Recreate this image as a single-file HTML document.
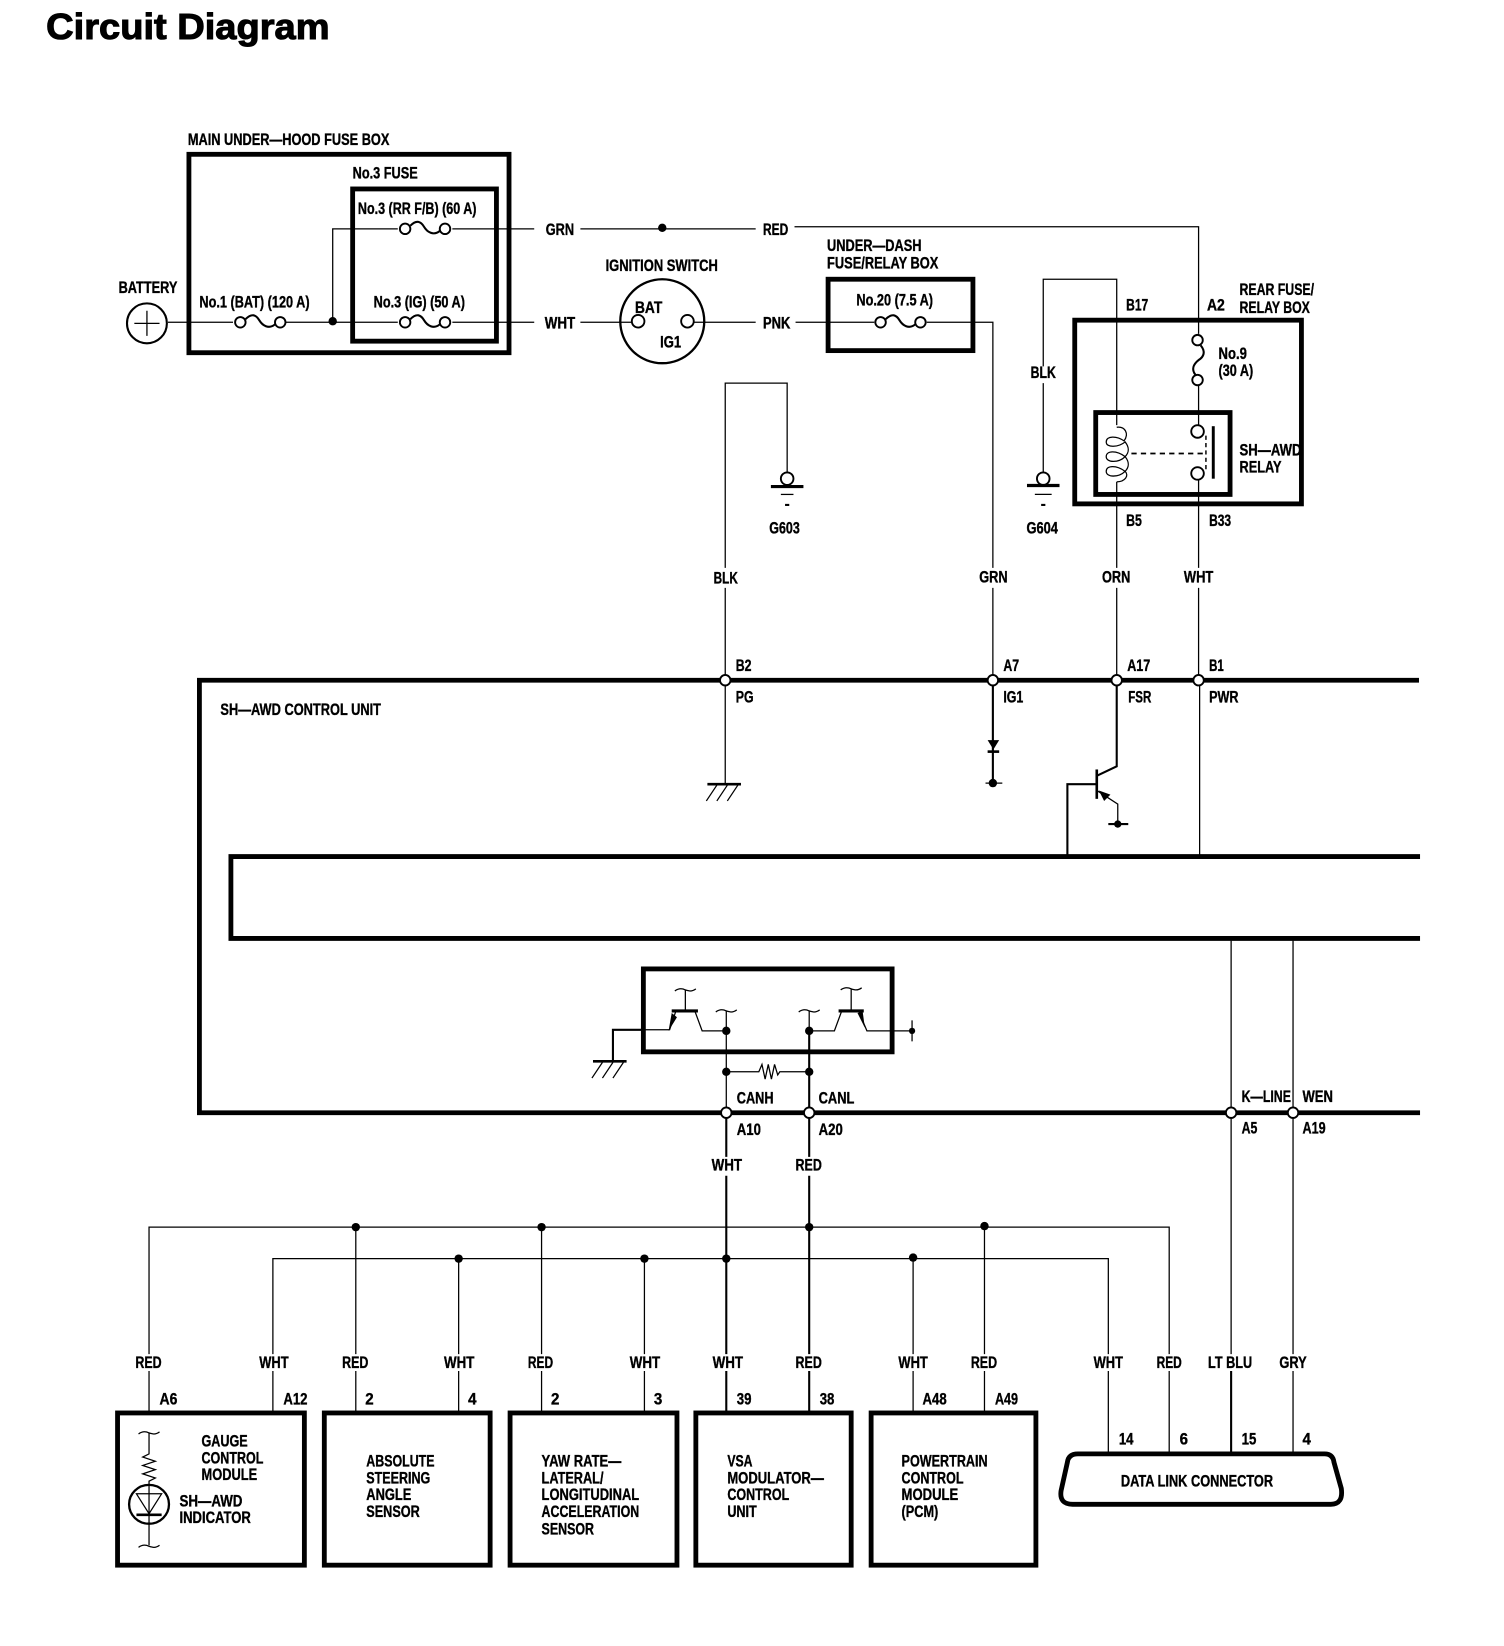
<!DOCTYPE html>
<html><head><meta charset="utf-8"><style>
html,body{margin:0;padding:0;background:#fff;width:1504px;height:1646px;overflow:hidden}
svg{display:block}
text{font-family:"Liberation Sans",sans-serif;font-weight:700;font-size:15.5px;fill:#000;stroke:#000;stroke-width:.35px}
.w{fill:none;stroke:#000;stroke-width:1.2}
.m{fill:none;stroke:#000;stroke-width:2}
.b{fill:none;stroke:#000;stroke-width:4.6}
.o{fill:#fff;stroke:#000;stroke-width:1.8}
.k{fill:#000}
</style></head><body>
<svg width="1504" height="1646" viewBox="0 0 1433 1568" preserveAspectRatio="none" xmlns="http://www.w3.org/2000/svg">
<defs>
<g id="f"><circle class="o" cx="-19" cy="0" r="5"/><circle class="o" cx="19" cy="0" r="5"/><path class="m" d="M-14,-3 C-8,-9 -4,-7 -1,-2 C2,3 8,7 14,2"/></g>
<g id="gnd"><path class="k" d="M-15.500,0h31v3h-31z"/></g>
<g id="hatch"><path d="M-16,0H16" stroke="#000" stroke-width="2.500" fill="none"/><path class="w" d="M-7,1 L-17,16 M3,1 L-7,16 M13,1 L3,16"/></g>
<path id="sq" class="w" d="M-10,1 C-6,-2 -2,-1 0,0 C3,1 6,2 10,-1"/>
</defs>

<text x="44" y="37" style="font-size:34.500px;stroke-width:1px" textLength="270" lengthAdjust="spacingAndGlyphs">Circuit Diagram</text>

<!-- top boxes -->
<rect class="b" x="180" y="147" width="305" height="189"/>
<rect class="b" x="336" y="180" width="137" height="145"/>
<rect class="b" x="789" y="266" width="138" height="68"/>
<rect class="b" x="1024" y="305" width="216" height="175"/>
<rect class="b" x="1044" y="393" width="128" height="78"/>

<!-- top wires -->
<path class="w" d="M160,307H222 M268,307H379 M317,307V218H379 M431,218H509 M431,307H509 M553,218H720 M757,216H1142V318 M553,307H592 M670,307H720 M758,307H833 M883,307H946V541 M946,560V648"/>
<circle class="k" cx="317" cy="306" r="4"/><circle class="k" cx="631" cy="217" r="4"/>
<circle cx="140" cy="308" r="19" fill="#fff" stroke="#000" stroke-width="2"/>
<path class="w" d="M128,308H152 M140,296V320"/>
<use href="#f" x="248" y="307"/><use href="#f" x="405" y="218"/><use href="#f" x="405" y="307"/><use href="#f" x="858" y="307"/>
<circle cx="631" cy="306" r="40" fill="#fff" stroke="#000" stroke-width="2.200"/>
<path class="w" d="M590,307H602 M661,307H672"/>
<circle class="o" cx="608" cy="306" r="6"/><circle class="o" cx="655" cy="306" r="6"/>

<text x="179" y="138" textLength="192" lengthAdjust="spacingAndGlyphs">MAIN UNDER—HOOD FUSE BOX</text>
<text x="336" y="170" textLength="62" lengthAdjust="spacingAndGlyphs">No.3 FUSE</text>
<text x="341" y="204" textLength="113" lengthAdjust="spacingAndGlyphs">No.3 (RR F/B) (60 A)</text>
<text x="190" y="293" textLength="105" lengthAdjust="spacingAndGlyphs">No.1 (BAT) (120 A)</text>
<text x="356" y="293" textLength="87" lengthAdjust="spacingAndGlyphs">No.3 (IG) (50 A)</text>
<text x="113" y="279" textLength="56" lengthAdjust="spacingAndGlyphs">BATTERY</text>
<text x="520" y="224" textLength="27" lengthAdjust="spacingAndGlyphs">GRN</text>
<text x="727" y="224" textLength="24" lengthAdjust="spacingAndGlyphs">RED</text>
<text x="519" y="313" textLength="29" lengthAdjust="spacingAndGlyphs">WHT</text>
<text x="727" y="313" textLength="26" lengthAdjust="spacingAndGlyphs">PNK</text>
<text x="577" y="258" textLength="107" lengthAdjust="spacingAndGlyphs">IGNITION SWITCH</text>
<text x="605" y="298" textLength="26" lengthAdjust="spacingAndGlyphs">BAT</text>
<text x="629" y="331" textLength="20" lengthAdjust="spacingAndGlyphs">IG1</text>
<text x="788" y="239" textLength="90" lengthAdjust="spacingAndGlyphs">UNDER—DASH</text>
<text x="788" y="256" textLength="106" lengthAdjust="spacingAndGlyphs">FUSE/RELAY BOX</text>
<text x="816" y="291" textLength="73" lengthAdjust="spacingAndGlyphs">No.20 (7.5 A)</text>

<!-- G603 / G604 -->
<path class="w" d="M691,541V365H750V450 M691,560V645 M691,653V746"/>
<circle class="o" cx="750" cy="456" r="6"/><use href="#gnd" x="750" y="462"/>
<path class="w" d="M744,471H756"/><path class="m" d="M748,481H752"/>
<text x="733" y="508" textLength="29" lengthAdjust="spacingAndGlyphs">G603</text>
<text x="680" y="556" textLength="23" lengthAdjust="spacingAndGlyphs">BLK</text>
<path class="w" d="M994,349V266H1064V405 M994,365V450"/>
<circle class="o" cx="994" cy="456" r="6"/><use href="#gnd" x="994" y="461"/>
<path class="w" d="M986,471H1002"/><path class="m" d="M992,481H996"/>
<text x="978" y="508" textLength="30" lengthAdjust="spacingAndGlyphs">G604</text>
<text x="982" y="360" textLength="24" lengthAdjust="spacingAndGlyphs">BLK</text>

<text x="1073" y="296" textLength="21" lengthAdjust="spacingAndGlyphs">B17</text>
<text x="1150" y="296" textLength="17" lengthAdjust="spacingAndGlyphs">A2</text>
<text x="1181" y="281" textLength="71" lengthAdjust="spacingAndGlyphs">REAR FUSE/</text>
<text x="1181" y="298" textLength="67" lengthAdjust="spacingAndGlyphs">RELAY BOX</text>
<text x="1161" y="342" textLength="27" lengthAdjust="spacingAndGlyphs">No.9</text>
<text x="1161" y="358" textLength="33" lengthAdjust="spacingAndGlyphs">(30 A)</text>
<text x="1181" y="434" textLength="59" lengthAdjust="spacingAndGlyphs">SH—AWD</text>
<text x="1181" y="450" textLength="40" lengthAdjust="spacingAndGlyphs">RELAY</text>
<text x="1073" y="501" textLength="15" lengthAdjust="spacingAndGlyphs">B5</text>
<text x="1152" y="501" textLength="21" lengthAdjust="spacingAndGlyphs">B33</text>

<!-- relay -->
<circle class="o" cx="1141" cy="324" r="5"/><circle class="o" cx="1141" cy="362" r="5"/>
<path class="m" d="M1144,329 C1149,335 1147,340 1142,343 C1137,347 1135,352 1139,357"/>
<path class="w" d="M1142,367V405 M1142,457V541 M1142,560V645"/>
<circle class="o" cx="1141" cy="411" r="6"/><circle class="o" cx="1141" cy="451" r="6"/>
<path d="M1156,406V456" stroke="#000" stroke-width="2.800"/>
<path class="w" d="M1064,407 C1072,406 1076,413 1071,420 C1064,415 1054,415 1054,421 C1054,427 1066,426 1072,421 C1076,426 1076,431 1072,435 C1064,429 1054,429 1054,435 C1054,441 1066,441 1072,435 C1076,440 1076,445 1072,449 C1064,443 1054,443 1054,449 C1054,455 1066,455 1072,449 C1076,453 1072,459 1064,459"/>
<path d="M1078,432H1150" stroke="#000" stroke-width="1.600" stroke-dasharray="5 4"/>
<path d="M1149,415V450" stroke="#000" stroke-width="1.400" stroke-dasharray="4 3"/>
<path class="w" d="M1064,459V541 M1064,560V645"/>

<text x="933" y="555" textLength="27" lengthAdjust="spacingAndGlyphs">GRN</text>
<text x="1050" y="555" textLength="27" lengthAdjust="spacingAndGlyphs">ORN</text>
<text x="1128" y="555" textLength="28" lengthAdjust="spacingAndGlyphs">WHT</text>

<!-- control unit -->
<path class="b" d="M1352,648H190V1060H1353"/>
<path class="b" d="M1353,816H220V894H1353"/>
<circle class="o" cx="691" cy="648" r="5"/><circle class="o" cx="946" cy="648" r="5"/><circle class="o" cx="1064" cy="648" r="5"/><circle class="o" cx="1142" cy="648" r="5"/>
<text x="701" y="639" textLength="15" lengthAdjust="spacingAndGlyphs">B2</text>
<text x="956" y="639" textLength="15" lengthAdjust="spacingAndGlyphs">A7</text>
<text x="1074" y="639" textLength="22" lengthAdjust="spacingAndGlyphs">A17</text>
<text x="1152" y="639" textLength="14" lengthAdjust="spacingAndGlyphs">B1</text>
<text x="701" y="669" textLength="17" lengthAdjust="spacingAndGlyphs">PG</text>
<text x="956" y="669" textLength="19" lengthAdjust="spacingAndGlyphs">IG1</text>
<text x="1075" y="669" textLength="22" lengthAdjust="spacingAndGlyphs">FSR</text>
<text x="1152" y="669" textLength="28" lengthAdjust="spacingAndGlyphs">PWR</text>
<text x="210" y="681" textLength="153" lengthAdjust="spacingAndGlyphs">SH—AWD CONTROL UNIT</text>
<use href="#hatch" x="690" y="747"/>

<path class="m" d="M946,653V746 M1064,653V730L1045,739"/>
<path class="k" d="M941,705H952L946.500,714Z"/><path d="M941,716H952" stroke="#000" stroke-width="2.500"/>
<circle class="k" cx="946" cy="746" r="4"/><path class="w" d="M939,746H955"/>
<path d="M1045,733V761" stroke="#000" stroke-width="2.500"/>
<path class="m" d="M1017,815V747H1045"/>
<path class="w" d="M1045,753L1065,766V785"/>
<path class="k" d="M1047,753L1058,757L1052,763Z"/>
<circle class="k" cx="1065" cy="785" r="3.500"/><path class="m" d="M1056,785H1075"/>
<path class="w" d="M1143,653V815"/>

<!-- CAN box -->
<rect class="b" x="613" y="923" width="237" height="79"/>
<path class="w" d="M613,981H638L644,963 M662,963L669,982H692 M692,963V1055 M771,963V1055 M771,982H795L802,963 M818,963L826,982H869 M653,963V943 M811,963V942"/>
<path class="m" d="M584,1010V981H613 M771,982V1055"/>
<path d="M640,963H665 M799,963H823" stroke="#000" stroke-width="3"/>
<path class="k" d="M637,982L640,965L645,969Z M824,979L817,965L822,964Z"/>
<use href="#sq" x="653" y="943"/><use href="#sq" x="811" y="942"/><use href="#sq" x="692" y="963"/><use href="#sq" x="771" y="963"/>
<circle class="k" cx="692" cy="982" r="4"/><circle class="k" cx="771" cy="982" r="4"/><circle class="k" cx="869" cy="982" r="3"/>
<path class="w" d="M869,972V992"/>
<use href="#hatch" x="581" y="1011"/>
<circle class="k" cx="692" cy="1021" r="4"/><circle class="k" cx="771" cy="1021" r="4"/>
<path class="w" d="M692,1021H723L726,1014L729,1028L732,1014L735,1028L738,1014L741,1024L743,1021H771"/>
<circle class="o" cx="692" cy="1060" r="5"/><circle class="o" cx="771" cy="1060" r="5"/><circle class="o" cx="1173" cy="1060" r="5"/><circle class="o" cx="1232" cy="1060" r="5"/>
<text x="702" y="1051" textLength="35" lengthAdjust="spacingAndGlyphs">CANH</text>
<text x="780" y="1051" textLength="34" lengthAdjust="spacingAndGlyphs">CANL</text>
<text x="702" y="1081" textLength="23" lengthAdjust="spacingAndGlyphs">A10</text>
<text x="780" y="1081" textLength="23" lengthAdjust="spacingAndGlyphs">A20</text>
<text x="678" y="1115" textLength="29" lengthAdjust="spacingAndGlyphs">WHT</text>
<text x="758" y="1115" textLength="25" lengthAdjust="spacingAndGlyphs">RED</text>
<text x="1183" y="1050" textLength="47" lengthAdjust="spacingAndGlyphs">K—LINE</text>
<text x="1241" y="1050" textLength="29" lengthAdjust="spacingAndGlyphs">WEN</text>
<text x="1183" y="1080" textLength="15" lengthAdjust="spacingAndGlyphs">A5</text>
<text x="1241" y="1080" textLength="22" lengthAdjust="spacingAndGlyphs">A19</text>

<!-- buses -->
<path class="w" d="M142,1290V1169H1114V1290 M260,1290V1199H1056V1290 M339,1169V1290 M437,1199V1290 M516,1169V1290 M614,1199V1290 M870,1199V1290 M938,1169V1290"/>
<path class="m" d="M692,1065V1102 M692,1120V1290 M771,1065V1102 M771,1120V1290"/>
<path class="w" d="M1173,896V1055 M1173,1065V1290 M1232,896V1055 M1232,1065V1290"/>
<circle class="k" cx="339" cy="1169" r="4"/><circle class="k" cx="516" cy="1169" r="4"/><circle class="k" cx="771" cy="1169" r="4"/><circle class="k" cx="938" cy="1168" r="4"/>
<circle class="k" cx="437" cy="1199" r="4"/><circle class="k" cx="614" cy="1199" r="4"/><circle class="k" cx="692" cy="1199" r="4"/><circle class="k" cx="870" cy="1198" r="4"/>
<path class="w" d="M142,1306V1345 M260,1306V1345 M339,1306V1345 M437,1306V1345 M516,1306V1345 M614,1306V1345 M870,1306V1345 M938,1306V1345 M1056,1306V1385 M1114,1306V1385 M1232,1306V1385"/>
<path class="m" d="M692,1306V1345 M771,1306V1345 M1173,1306V1385"/>

<text x="129" y="1303" textLength="25" lengthAdjust="spacingAndGlyphs">RED</text>
<text x="247" y="1303" textLength="28" lengthAdjust="spacingAndGlyphs">WHT</text>
<text x="326" y="1303" textLength="25" lengthAdjust="spacingAndGlyphs">RED</text>
<text x="423" y="1303" textLength="29" lengthAdjust="spacingAndGlyphs">WHT</text>
<text x="503" y="1303" textLength="24" lengthAdjust="spacingAndGlyphs">RED</text>
<text x="600" y="1303" textLength="29" lengthAdjust="spacingAndGlyphs">WHT</text>
<text x="679" y="1303" textLength="29" lengthAdjust="spacingAndGlyphs">WHT</text>
<text x="758" y="1303" textLength="25" lengthAdjust="spacingAndGlyphs">RED</text>
<text x="856" y="1303" textLength="28" lengthAdjust="spacingAndGlyphs">WHT</text>
<text x="925" y="1303" textLength="25" lengthAdjust="spacingAndGlyphs">RED</text>
<text x="1042" y="1303" textLength="28" lengthAdjust="spacingAndGlyphs">WHT</text>
<text x="1102" y="1303" textLength="24" lengthAdjust="spacingAndGlyphs">RED</text>
<text x="1151" y="1303" textLength="42" lengthAdjust="spacingAndGlyphs">LT BLU</text>
<text x="1219" y="1303" textLength="26" lengthAdjust="spacingAndGlyphs">GRY</text>

<text x="152" y="1338" textLength="17" lengthAdjust="spacingAndGlyphs">A6</text>
<text x="270" y="1338" textLength="23" lengthAdjust="spacingAndGlyphs">A12</text>
<text x="348" y="1338" textLength="8" lengthAdjust="spacingAndGlyphs">2</text>
<text x="446" y="1338" textLength="8" lengthAdjust="spacingAndGlyphs">4</text>
<text x="525" y="1338" textLength="8" lengthAdjust="spacingAndGlyphs">2</text>
<text x="623" y="1338" textLength="8" lengthAdjust="spacingAndGlyphs">3</text>
<text x="702" y="1338" textLength="14" lengthAdjust="spacingAndGlyphs">39</text>
<text x="781" y="1338" textLength="14" lengthAdjust="spacingAndGlyphs">38</text>
<text x="879" y="1338" textLength="23" lengthAdjust="spacingAndGlyphs">A48</text>
<text x="948" y="1338" textLength="22" lengthAdjust="spacingAndGlyphs">A49</text>
<text x="1066" y="1376" textLength="14" lengthAdjust="spacingAndGlyphs">14</text>
<text x="1124" y="1376" textLength="8" lengthAdjust="spacingAndGlyphs">6</text>
<text x="1183" y="1376" textLength="14" lengthAdjust="spacingAndGlyphs">15</text>
<text x="1241" y="1376" textLength="8" lengthAdjust="spacingAndGlyphs">4</text>

<!-- bottom boxes -->
<rect class="b" x="112" y="1346" width="178" height="145"/>
<rect class="b" x="309" y="1346" width="158" height="145"/>
<rect class="b" x="486" y="1346" width="159" height="145"/>
<rect class="b" x="663" y="1346" width="148" height="145"/>
<rect class="b" x="830" y="1346" width="157" height="145"/>
<path class="b" d="M1027,1385H1262Q1270,1385 1271,1393L1278,1418Q1280,1433 1268,1433H1022Q1009,1433 1011,1420L1017,1393Q1018,1385 1027,1385Z"/>

<text x="192" y="1378" textLength="44" lengthAdjust="spacingAndGlyphs">GAUGE</text>
<text x="192" y="1394" textLength="59" lengthAdjust="spacingAndGlyphs">CONTROL</text>
<text x="192" y="1410" textLength="53" lengthAdjust="spacingAndGlyphs">MODULE</text>
<text x="171" y="1435" textLength="60" lengthAdjust="spacingAndGlyphs">SH—AWD</text>
<text x="171" y="1451" textLength="68" lengthAdjust="spacingAndGlyphs">INDICATOR</text>
<path class="w" d="M142,1365V1385L136,1388L148,1392L136,1396L148,1400L136,1404L148,1408L142,1411V1472"/>
<use href="#sq" x="142" y="1365"/><use href="#sq" x="142" y="1473"/>
<ellipse cx="142" cy="1433" rx="19" ry="18.500" fill="none" stroke="#000" stroke-width="2.200"/>
<path class="w" d="M130,1423H154L142,1442Z"/>
<path d="M130,1443H154" stroke="#000" stroke-width="2.500"/>

<text x="349" y="1397" textLength="65" lengthAdjust="spacingAndGlyphs">ABSOLUTE</text>
<text x="349" y="1413" textLength="61" lengthAdjust="spacingAndGlyphs">STEERING</text>
<text x="349" y="1429" textLength="43" lengthAdjust="spacingAndGlyphs">ANGLE</text>
<text x="349" y="1445" textLength="51" lengthAdjust="spacingAndGlyphs">SENSOR</text>
<text x="516" y="1397" textLength="76" lengthAdjust="spacingAndGlyphs">YAW RATE—</text>
<text x="516" y="1413" textLength="59" lengthAdjust="spacingAndGlyphs">LATERAL/</text>
<text x="516" y="1429" textLength="93" lengthAdjust="spacingAndGlyphs">LONGITUDINAL</text>
<text x="516" y="1445" textLength="93" lengthAdjust="spacingAndGlyphs">ACCELERATION</text>
<text x="516" y="1462" textLength="50" lengthAdjust="spacingAndGlyphs">SENSOR</text>
<text x="693" y="1397" textLength="24" lengthAdjust="spacingAndGlyphs">VSA</text>
<text x="693" y="1413" textLength="92" lengthAdjust="spacingAndGlyphs">MODULATOR—</text>
<text x="693" y="1429" textLength="59" lengthAdjust="spacingAndGlyphs">CONTROL</text>
<text x="693" y="1445" textLength="28" lengthAdjust="spacingAndGlyphs">UNIT</text>
<text x="859" y="1397" textLength="82" lengthAdjust="spacingAndGlyphs">POWERTRAIN</text>
<text x="859" y="1413" textLength="59" lengthAdjust="spacingAndGlyphs">CONTROL</text>
<text x="859" y="1429" textLength="54" lengthAdjust="spacingAndGlyphs">MODULE</text>
<text x="859" y="1445" textLength="35" lengthAdjust="spacingAndGlyphs">(PCM)</text>
<text x="1068" y="1416" textLength="145" lengthAdjust="spacingAndGlyphs">DATA LINK CONNECTOR</text>
</svg>
</body></html>
